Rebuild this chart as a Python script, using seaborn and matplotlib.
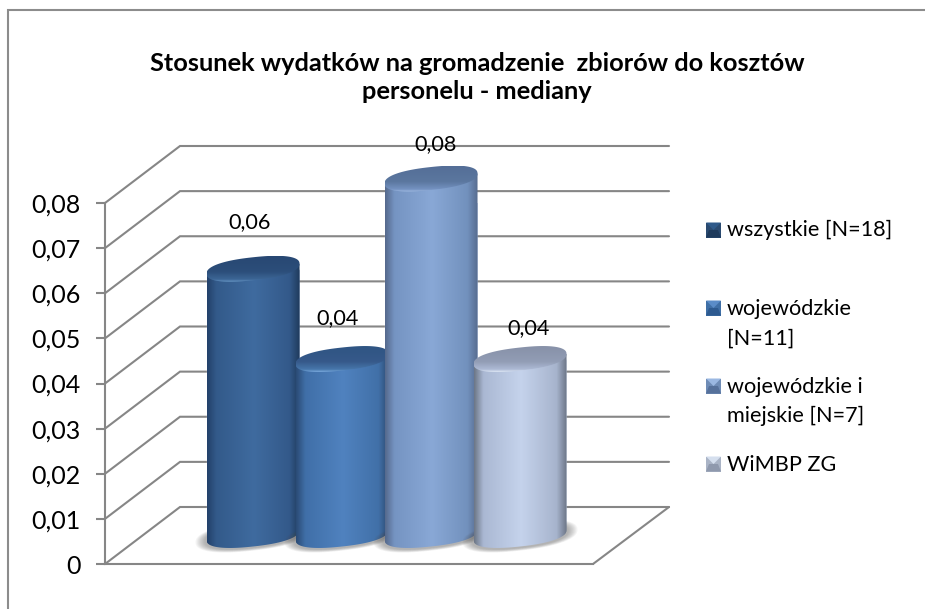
import numpy as np
import pandas as pd
import seaborn as sns
import matplotlib
matplotlib.use("Agg")
import matplotlib.pyplot as plt
from matplotlib.colors import LinearSegmentedColormap
from matplotlib.patches import PathPatch, Polygon
from matplotlib.path import Path
from matplotlib.transforms import Affine2D

# ---- data ----
categories = ["wszystkie [N=18]", "wojewódzkie\n[N=11]",
              "wojewódzkie i\nmiejskie [N=7]", "WiMBP ZG"]
values = [0.059, 0.039, 0.079, 0.039]
y_ticks = [0, 0.01, 0.02, 0.03, 0.04, 0.05, 0.06, 0.07, 0.08]
title = "Stosunek wydatków na gromadzenie  zbiorów do kosztów\npersonelu - mediany"

# ---- style ----
bar_base = ["#3a6497", "#4f7fbc", "#87a5d2", "#c3d1e9"]
body_stops = [
    ["#23416a", "#335a8a", "#3f6b9f", "#33598a", "#1d3757"],
    ["#2b4b75", "#406fa8", "#5082bf", "#4170a8", "#2a466b"],
    ["#55698c", "#7594c2", "#89a8d6", "#7291bd", "#54688a"],
    ["#6c7686", "#aab8d3", "#c5d3ec", "#a7b4cd", "#666f80"],
]
cap_stops = [
    ["#284873", "#2c4e7a", "#3c6696", "#6a9ac8"],
    ["#2f5583", "#36598a", "#4777ab", "#7aaade"],
    ["#546e97", "#5b779f", "#7593c2", "#a8c2e8"],
    ["#8791a8", "#929db5", "#adbad5", "#dfe8f6"],
]
icon_stops = [
    ("#2f5a8a", "#2a4a70", "#1e3a5c"),
    ("#5a8cc8", "#3f6fa6", "#2d5a90"),
    ("#9bb8e2", "#6f8cb6", "#56719b"),
    ("#d5dfee", "#aab4c6", "#8f99ad"),
]
GRID = "#868686"
W, H, DPI = 925, 609, 100
AX_L, AX_R, AX_B, AX_T = 105, 593, 564, 203   # pixels of the front plane
DX, DY = 75, 57                                # depth offset of the back wall
BASE_LIFT = 29                                 # bars stand this far behind the front edge
SLOPE, MINOR = 5, 11.5                         # tilt and half-height of the ellipses
ROUND = 0.85                                   # fuller than a true ellipse
label_nudge = [(-3, -2), (-4, 4), (5, 11), (9, 14)]

sns.set_style("white")
plt.rcParams["font.family"] = ["Lato", "DejaVu Sans"]
fig = plt.figure(figsize=(W / DPI, H / DPI), dpi=DPI, facecolor="white")


def pixel_axes(z):
    a = fig.add_axes([0, 0, 1, 1], zorder=z)
    a.set_xlim(0, W)
    a.set_ylim(H, 0)
    a.axis("off")
    return a


ax_bg = pixel_axes(0)
ax = fig.add_axes([AX_L / W, 1 - AX_B / H, (AX_R - AX_L) / W, (AX_B - AX_T) / H], zorder=1)
ax.patch.set_alpha(0)
ax_fg = pixel_axes(2)

# ---- main bars through seaborn ----
df = pd.DataFrame({"kategoria": categories, "mediana": values})
sns.barplot(data=df, x="kategoria", y="mediana", hue="kategoria", palette=bar_base,
            width=1.045, gap=0, legend=False, ax=ax, saturation=1)
ax.set_xlim(-1.663, 3.82)
ax.set_ylim(0, 0.08)
ax.set_xlabel("")
ax.set_ylabel("")
ax.set_xticks([])
ax.set_yticks(y_ticks)
ax.set_yticklabels([("%.2f" % t).replace(".", ",") if t else "0" for t in y_ticks],
                   fontsize=18, color="black")
ax.tick_params(axis="y", left=True, length=6.5, width=1.5, color=GRID, pad=11)
for s in ("top", "right"):
    ax.spines[s].set_visible(False)
for s in ("left", "bottom"):
    ax.spines[s].set_color(GRID)
    ax.spines[s].set_linewidth(1.5)

# ---- frame, walls and grid ----
FR = dict(color="#8c8c8c", lw=1.5, solid_capstyle="projecting", solid_joinstyle="miter")
ax_bg.plot([8, 8, W], [H, 9.5, 9.5], **FR)
to_px = lambda xv, yv: ax.transData.transform((xv, yv))
for t in y_ticks:
    yp = H - to_px(0, t)[1]
    ax_bg.plot([AX_L, AX_L + DX, AX_R + (DX + 1)], [yp, yp - DY, yp - DY],
               color=GRID, lw=1.5, solid_joinstyle="miter")
y0 = H - to_px(0, 0)[1]
ax_bg.plot([AX_R, AX_R + DX + 1], [y0, y0 - DY], color=GRID, lw=1.5)

# ---- cylinders ----
lift = Affine2D().translate(0, BASE_LIFT)
bars = list(ax.patches)


def ell(cx, cy, a, t):
    c = np.sign(np.cos(t)) * np.abs(np.cos(t)) ** ROUND
    s = np.sign(np.sin(t)) * np.abs(np.sin(t)) ** ROUND
    return cx + a * c, cy - SLOPE * c + MINOR * s


grad = np.linspace(0, 1, 256)
for i, bar in enumerate(bars):
    tr = ax.transData + lift
    xl = bar.get_x()
    xr = xl + bar.get_width()
    (px0, py0) = tr.transform((xl, 0))
    (px1, py1) = tr.transform((xr, bar.get_height()))
    by, ty = H - py0, H - py1
    a = (px1 - px0) / 2
    cx = (px0 + px1) / 2
    bar.set_transform(tr)

    # soft contact shadow
    for k in range(10):
        g = 1 + (10 - k) * 1.0
        tt = np.linspace(0, 2 * np.pi, 80)
        ex, ey = ell(cx, by, a + g, tt)
        ey = by + (ey - by) * (1 + g / 40) + 1
        ax_fg.fill(ex, ey, color="#505050", alpha=0.05, lw=0, zorder=1 + i * 10)

    # body
    arc = np.linspace(np.pi, 0, 60)
    ax_x, ax_y = ell(cx, by, a, arc)
    verts = np.column_stack([np.r_[px0, ax_x, px1], np.r_[ty + SLOPE, ax_y, ty - SLOPE]])
    verts = np.vstack([verts, verts[0]])
    body = PathPatch(Path(verts), transform=ax_fg.transData, fc="none", ec="none")
    ax_fg.add_patch(body)
    cmap = LinearSegmentedColormap.from_list("b", list(zip([0, .1, .5, .88, 1], body_stops[i])))
    im = ax_fg.imshow(grad[None, :], cmap=cmap, aspect="auto", vmin=0, vmax=1,
                      extent=(px0, px1, by + 14, ty - 8), zorder=2 + i * 10, interpolation="bilinear")
    im.set_clip_path(body)
    bar.set_clip_path(Path(verts), ax_fg.transData)

    # cap
    tt = np.linspace(0, 2 * np.pi, 120)
    cxs, cys = ell(cx, ty, a, tt)
    cap = PathPatch(Path(np.column_stack([cxs, cys])), transform=ax_fg.transData, fc="none", ec="none")
    ax_fg.add_patch(cap)
    cmap = LinearSegmentedColormap.from_list("c", list(zip([0, .6, .9, 1], cap_stops[i])))
    im = ax_fg.imshow(grad[:, None], cmap=cmap, aspect="auto", vmin=0, vmax=1,
                      extent=(px0, px1, ty + 13, ty - 13), zorder=3 + i * 10, interpolation="bilinear")
    im.set_clip_path(cap)

    # value label
    nx, ny = label_nudge[i]
    ax_fg.text(cx + nx, ty - 45 + ny, ("%.2f" % values[i]).replace(".", ","),
               ha="center", va="center", fontsize=15.6, color="black", zorder=100)

# ---- legend ----
legend_base = [236, 315, 393, 471]
icon_mid = [230, 308, 386, 464]
for lab, b, m, (lt, md, dk) in zip(categories, legend_base, icon_mid, icon_stops):
    for j, line in enumerate(lab.split("\n")):
        ax_fg.text(727, b + j * 29.5, line, ha="left", va="baseline", fontsize=15.6, color="black")
    l, r, t, bt = 706, 721, m - 7.5, m + 7.5
    c = (713.5, m)
    ax_fg.add_patch(Polygon([(l, t), (r, t), (r, bt), (l, bt)], fc=md, ec="none", zorder=50))
    ax_fg.add_patch(Polygon([(l, t), (r, t), c], fc=lt, ec="none", zorder=51))
    ax_fg.add_patch(Polygon([(l, bt), (r, bt), (r - 3, c[1]), (l + 3, c[1])], fc=dk, ec="none", zorder=51))

# ---- title ----
ax_fg.text(477, 77.5, title, ha="center", va="center", fontsize=18.3, fontweight="bold",
           color="black", linespacing=1.3)

ax_fg.set_xlim(0, W)
ax_fg.set_ylim(H, 0)
fig.savefig("out.png", dpi=DPI)
